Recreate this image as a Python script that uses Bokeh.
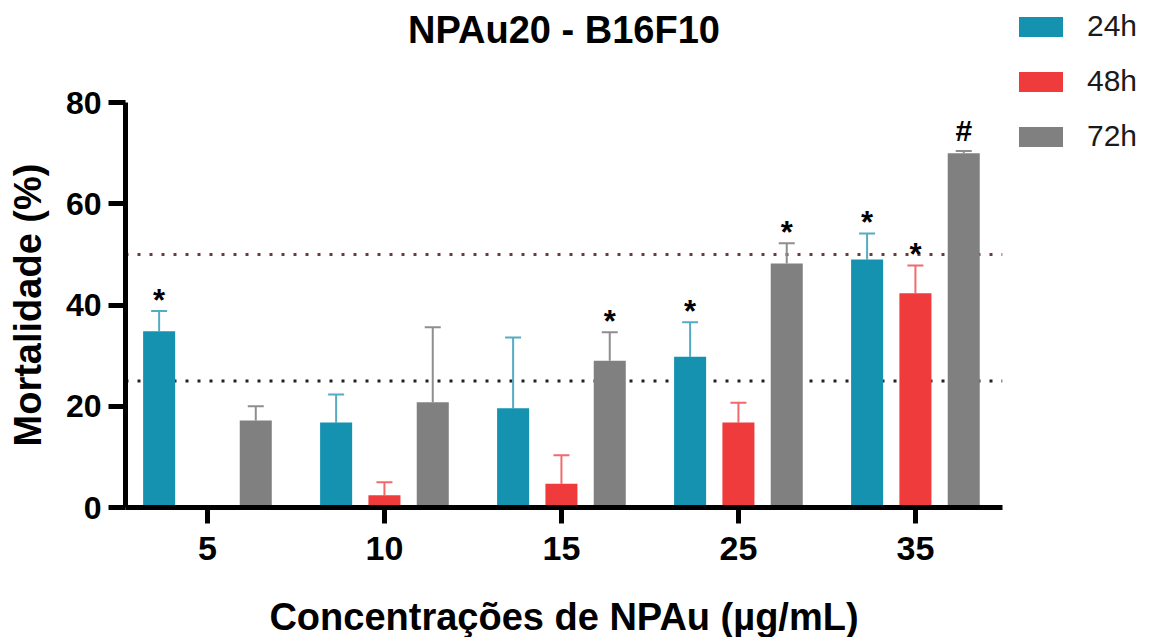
from bokeh.plotting import figure
from bokeh.models import (ColumnDataSource, Range1d, FixedTicker, Whisker, TeeHead,
                          Span, Legend, LegendItem, Title)
from bokeh.core.properties import value
from bokeh.embed import file_html
from bokeh.resources import INLINE

# ---------------- data ----------------
title_text = "NPAu20 - B16F10"
x_label = "Concentrações de NPAu (µg/mL)"
y_label = "Mortalidade (%)"
concentrations = ["5", "10", "15", "25", "35"]
series_names = ["24h", "48h", "72h"]
mort_24h = [34.8, 16.8, 19.6, 29.8, 49.0]
err_24h = [4.0, 5.5, 14.0, 6.8, 5.1]
mort_48h = [0.0, 2.4, 4.7, 16.8, 42.3]
err_48h = [0.0, 2.6, 5.6, 3.9, 5.5]
mort_72h = [17.2, 20.8, 29.0, 48.2, 70.0]
err_72h = [2.8, 14.8, 5.6, 4.0, 0.4]
marks_24h = ["*", "", "", "*", "*"]
marks_48h = ["", "", "", "", "*"]
marks_72h = ["", "", "*", "*", "#"]
thresholds = [25, 50]
y_ticks = [0, 20, 40, 60, 80]

# ---------------- style ----------------
FONT = "Liberation Sans"
colors = ["#1592b0", "#f03b3d", "#808080"]
err_colors = ["#55abc4", "#f26a6a", "#8e8e8e"]
threshold_colors = ["#222222", "#6e3a3a"]
offsets = [-0.273, 0.0, 0.273]
bar_width = 0.181

values = [mort_24h, mort_48h, mort_72h]
errs = [err_24h, err_48h, err_72h]
marks = [marks_24h, marks_48h, marks_72h]
base = list(range(1, len(concentrations) + 1))

p = figure(frame_width=877, frame_height=405,
           x_range=Range1d(0.537, 5.492), y_range=Range1d(0, 80),
           output_backend="svg", toolbar_location=None,
           min_border_left=125, min_border_right=147,
           min_border_top=102, min_border_bottom=130)
p.outline_line_color = None
p.xgrid.visible = False
p.ygrid.visible = False
p.background_fill_color = "white"
p.border_fill_color = "white"

# title: a thin spacer next to the frame, the visible title above it
p.add_layout(Title(text=" ", text_font_size="1px", standoff=44), "above")
p.add_layout(Title(text=title_text, align="center", text_font=FONT,
                   text_font_size="38px", text_font_style="bold",
                   text_color="black", standoff=10), "above")

# axes
for ax in (p.xaxis[0], p.yaxis[0]):
    ax.axis_line_width = 5
    ax.axis_line_color = "black"
    ax.major_tick_line_width = 5
    ax.major_tick_line_color = "black"
    ax.major_tick_in = 0
    ax.minor_tick_line_color = None
    ax.major_label_text_font = FONT
    ax.major_label_text_font_style = "bold"
    ax.major_label_text_color = "black"
    ax.axis_label_text_font = FONT
    ax.axis_label_text_font_style = "bold"
    ax.axis_label_text_font_size = "38px"
    ax.axis_label_text_color = "black"

p.yaxis.ticker = FixedTicker(ticks=y_ticks)
p.yaxis.major_tick_out = 17
p.yaxis.major_label_standoff = 7
p.yaxis.major_label_text_font_size = "32px"
p.yaxis.axis_label = y_label
p.yaxis.axis_label_standoff = 14

p.xaxis.ticker = FixedTicker(ticks=base)
p.xaxis.major_label_overrides = {b: c for b, c in zip(base, concentrations)}
p.xaxis.major_tick_out = 16
p.xaxis.major_label_standoff = 13
p.xaxis.major_label_text_font_size = "34px"
p.xaxis.axis_label = x_label
p.xaxis.axis_label_standoff = 33

# threshold lines (behind the bars)
for t, c in zip(thresholds, threshold_colors):
    p.add_layout(Span(location=t, dimension="width", line_color=c, line_width=3,
                      line_dash="3 9", level="underlay"))

legend_items = []
for k in range(3):
    xs = [b + offsets[k] for b in base]
    tops = [v + e for v, e in zip(values[k], errs[k])]
    src = ColumnDataSource(dict(x=xs, top=values[k], etop=tops))
    r = p.vbar(x="x", top="top", bottom=0, width=bar_width, source=src,
               fill_color=colors[k], line_color=None)
    legend_items.append(LegendItem(label=series_names[k], renderers=[r]))

    keep = [i for i in range(len(xs)) if errs[k][i] > 0]
    wsrc = ColumnDataSource(dict(x=[xs[i] for i in keep],
                                 lo=[values[k][i] for i in keep],
                                 hi=[tops[i] for i in keep]))
    p.add_layout(Whisker(source=wsrc, base="x", lower="lo", upper="hi",
                         dimension="height", line_color=err_colors[k], line_width=2,
                         lower_head=None,
                         upper_head=TeeHead(size=16, line_color=err_colors[k], line_width=2),
                         level="underlay"))

    star = [i for i in range(len(xs)) if marks[k][i] == "*"]
    if star:
        ssrc = ColumnDataSource(dict(x=[xs[i] for i in star], y=[tops[i] for i in star],
                                     t=[marks[k][i] for i in star]))
        p.text(x="x", y="y", text="t", source=ssrc, text_font=value(FONT),
               text_font_style="bold", text_font_size="31px", text_color="black",
               text_align="center", text_baseline="alphabetic", y_offset=-11)
    hsh = [i for i in range(len(xs)) if marks[k][i] == "#"]
    if hsh:
        hsrc = ColumnDataSource(dict(x=[xs[i] for i in hsh], y=[tops[i] for i in hsh],
                                     t=[marks[k][i] for i in hsh]))
        p.text(x="x", y="y", text="t", source=hsrc, text_font=value(FONT),
               text_font_style="bold", text_font_size="30px", text_color="black",
               text_align="center", text_baseline="alphabetic", y_offset=-21)

legend = Legend(items=legend_items, location=(11, 354), orientation="vertical",
                glyph_width=55, glyph_height=25, label_standoff=19, spacing=21,
                padding=0, margin=0, border_line_color=None, background_fill_alpha=0,
                label_text_font=FONT, label_text_font_size="30px",
                label_text_color="#1a1a1a")
p.add_layout(legend, "right")

open("out.html", "w").write(file_html(p, INLINE))
